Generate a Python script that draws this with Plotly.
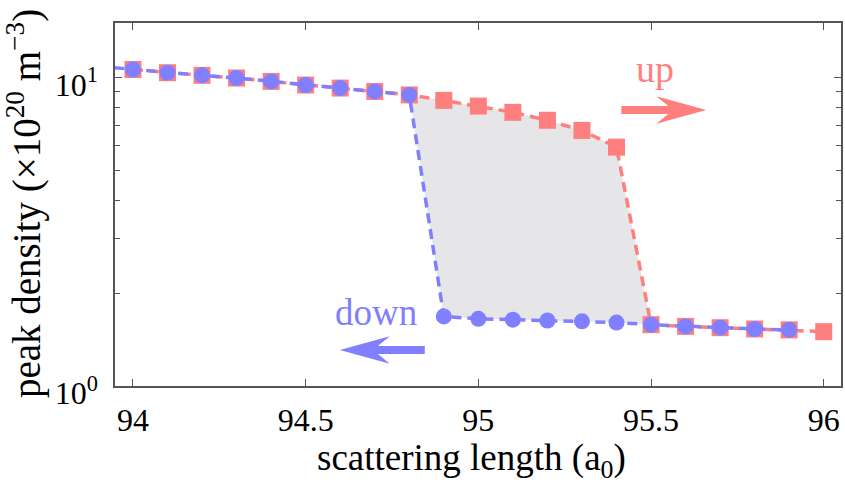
import plotly.graph_objects as go

# ---- data ----
x_up = [94.0, 94.1, 94.2, 94.3, 94.4, 94.5, 94.6, 94.7, 94.8, 94.9, 95.0,
        95.1, 95.2, 95.3, 95.4, 95.5, 95.6, 95.7, 95.8, 95.9, 96.0]
y_up = [10.6, 10.35, 10.15, 9.95, 9.7, 9.44, 9.23, 9.0, 8.77, 8.42, 8.07,
        7.70, 7.26, 6.73, 5.94, 1.58, 1.56, 1.545, 1.53, 1.52, 1.50]

x_down = [93.9, 94.0, 94.1, 94.2, 94.3, 94.4, 94.5, 94.6, 94.7, 94.8, 94.9,
          95.0, 95.1, 95.2, 95.3, 95.4, 95.5, 95.6, 95.7, 95.8, 95.9]
y_down = [10.85, 10.6, 10.35, 10.15, 9.95, 9.7, 9.44, 9.23, 9.0, 8.77, 1.68,
          1.65, 1.64, 1.63, 1.62, 1.605, 1.58, 1.56, 1.545, 1.53, 1.52]

x_ticks = [94, 94.5, 95, 95.5, 96]
x_ticktext = ["94", "94.5", "95", "95.5", "96"]
y_ticks = [1, 10]
y_ticktext = ["10<sup>0</sup>", "10<sup>1</sup>"]
y_minor = [2, 3, 4, 5, 6, 7, 8, 9]

x_title = "scattering length (a<sub>0</sub>)"
y_title = "peak density (×10<sup>20</sup> m<sup>−3</sup>)"

RED = "#ff7f7f"
BLUE = "#7f7fff"
FONT = "Liberation Serif"

# hysteresis region: upper branch (up sweep) + lower branch (down sweep) reversed
lo, hi = 94.8, 95.5
fx_top = [x for x in x_up if lo <= x + 1e-9 and x <= hi + 1e-9]
fy_top = [y for x, y in zip(x_up, y_up) if lo <= x + 1e-9 and x <= hi + 1e-9]
fx_bot = [x for x in x_down if lo <= x + 1e-9 and x <= hi + 1e-9]
fy_bot = [y for x, y in zip(x_down, y_down) if lo <= x + 1e-9 and x <= hi + 1e-9]
fill_x = fx_top + fx_bot[::-1]
fill_y = fy_top + fy_bot[::-1]

fig = go.Figure()
fig.add_trace(go.Scatter(x=fill_x, y=fill_y, fill="toself", mode="none",
                         fillcolor="#e6e6e8", hoverinfo="skip", showlegend=False))
fig.add_trace(go.Scatter(x=x_up, y=y_up, mode="lines+markers",
                         line=dict(color=RED, width=3.5, dash="10px,6px"),
                         marker=dict(symbol="square", size=17, color=RED),
                         showlegend=False))
fig.add_trace(go.Scatter(x=x_down, y=y_down, mode="lines+markers",
                         line=dict(color=BLUE, width=3.5, dash="10px,6px"),
                         marker=dict(symbol="circle", size=16, color=BLUE),
                         showlegend=False))

# plot-area geometry in pixels
L, R, T, B = 115, 841.5, 23, 386
W, H = 845, 485


def px(x):
    return (x - L) / (R - L)


def py(y):
    return (B - y) / (B - T)


def arrow_path(tip_x, tail_x, yc, direction):
    d = direction
    head_len, half_h, shaft_h, notch = 50, 13.7, 4, 38
    pts = [
        (tip_x, yc),
        (tip_x - d * head_len, yc - half_h),
        (tip_x - d * notch, yc - shaft_h),
        (tail_x, yc - shaft_h),
        (tail_x, yc + shaft_h),
        (tip_x - d * notch, yc + shaft_h),
        (tip_x - d * head_len, yc + half_h),
    ]
    return "M " + " L ".join(f"{px(a):.5f},{py(b):.5f}" for a, b in pts) + " Z"


fig.add_shape(type="path", xref="paper", yref="paper",
              path=arrow_path(706.7, 621.7, 110, 1),
              fillcolor=RED, line=dict(width=0))
fig.add_shape(type="path", xref="paper", yref="paper",
              path=arrow_path(340, 425, 350, -1),
              fillcolor=BLUE, line=dict(width=0))

fig.add_annotation(x=px(655), y=py(69), xref="paper", yref="paper",
                   xanchor="center", yanchor="middle",
                   text="up", showarrow=False,
                   font=dict(family=FONT, size=38, color=RED))
fig.add_annotation(x=px(376.5), y=py(312), xref="paper", yref="paper",
                   xanchor="center", yanchor="middle",
                   text="down", showarrow=False,
                   font=dict(family=FONT, size=37, color=BLUE))

# axis titles
fig.add_annotation(x=px(472), y=py(460), xref="paper", yref="paper",
                   xanchor="center", yanchor="middle",
                   text=x_title, showarrow=False,
                   font=dict(family=FONT, size=37, color="black"))
fig.add_annotation(x=px(24), y=py(204), xref="paper", yref="paper",
                   xanchor="center", yanchor="middle", textangle=-90,
                   text=y_title, showarrow=False,
                   font=dict(family=FONT, size=39, color="black"))

axcol = "#555555"
fig.update_xaxes(range=[93.948, 96.05], tickvals=x_ticks, ticktext=x_ticktext,
                 ticks="inside", ticklen=7, tickwidth=1, tickcolor=axcol,
                 showline=True, linecolor=axcol, linewidth=1.5, mirror="ticks",
                 showgrid=False, zeroline=False, ticklabelstandoff=5,
                 tickfont=dict(family=FONT, size=32, color="black"))
fig.update_yaxes(type="log", range=[0, 1.176], tickvals=y_ticks, ticktext=y_ticktext,
                 ticks="inside", ticklen=7, tickwidth=1, tickcolor=axcol,
                 minor=dict(tickvals=y_minor, ticks="inside", ticklen=5,
                            tickwidth=1, tickcolor=axcol, showgrid=False),
                 showline=True, linecolor=axcol, linewidth=1.5, mirror="ticks",
                 showgrid=False, zeroline=False, ticklabelstandoff=9,
                 ticklabelshift=7,
                 tickfont=dict(family=FONT, size=32, color="black"))

fig.update_layout(width=W, height=H, plot_bgcolor="white", paper_bgcolor="white",
                  margin=dict(l=L, r=W - R, t=T, b=H - B, autoexpand=False),
                  showlegend=False)

fig.write_html("out.html")
